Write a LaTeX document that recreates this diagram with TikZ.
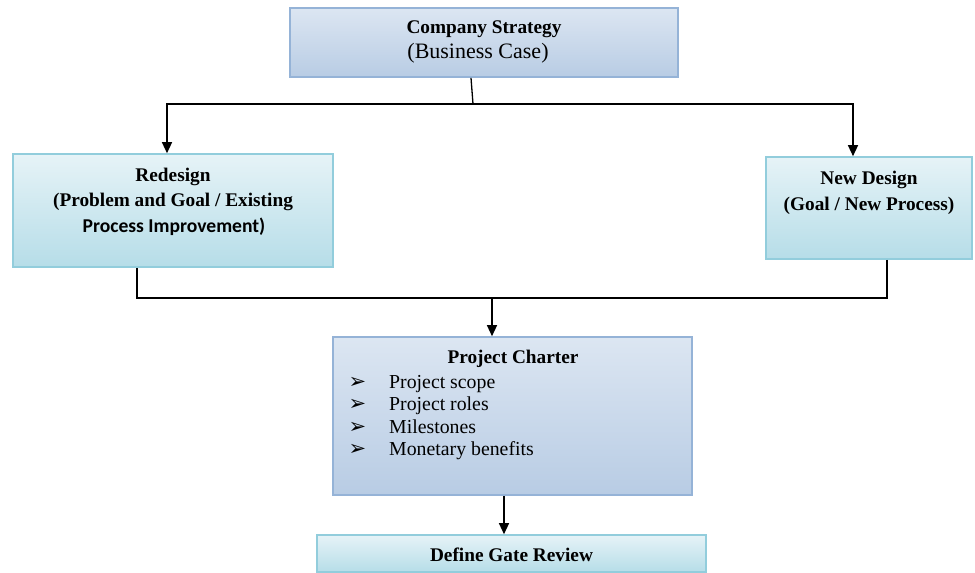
\documentclass[tikz,border=0pt]{standalone}
\usepackage{fontspec}
\setmainfont{Liberation Serif}
\newfontfamily\calibfont{Carlito}
\newfontfamily\symfont{DejaVu Sans}
\usetikzlibrary{arrows.meta}

\definecolor{blueedge}{HTML}{95B3D7}
\definecolor{bluetop}{HTML}{DCE6F2}
\definecolor{bluemid}{HTML}{F1F5FA}
\definecolor{bluebot}{HTML}{B8CCE4}
\definecolor{aquaedge}{HTML}{92CDDC}
\definecolor{aquatop}{HTML}{E6F3F7}
\definecolor{aquamid}{HTML}{F6FBFC}
\definecolor{aquabot}{HTML}{B6DDE8}

\tikzset{
  boxbase/.style={rectangle, inner sep=0pt, line width=1.6pt},
  bluebox/.style={boxbase, draw=blueedge, top color=bluetop, middle color=bluemid, bottom color=bluebot},
  aquabox/.style={boxbase, draw=aquaedge, top color=aquatop, middle color=aquamid, bottom color=aquabot},
  label/.style={anchor=base, inner sep=0pt},
  boldtxt/.style={label, font=\fontsize{19.3}{23}\selectfont\bfseries},
  plaintxt/.style={label, font=\fontsize{22}{26}\selectfont},
  itemtxt/.style={anchor=base west, inner sep=0pt, font=\fontsize{19.8}{24}\selectfont},
  bulletmark/.style={anchor=base, inner sep=0pt, font=\symfont\fontsize{21}{24}\selectfont},
  link/.style={line width=1.3pt, black},
  arr/.style={link, -{Triangle[length=11pt,width=10pt]}}
}

\begin{document}
\begin{tikzpicture}[x=1pt,y=-1pt]
\useasboundingbox (0,0) rectangle (975,573);

% boxes
\node[bluebox, minimum width=388pt, minimum height=69pt] (cs) at (484,42.5) {};
\node[aquabox, minimum width=320pt, minimum height=113pt] (rd) at (173,210.5) {};
\node[aquabox, minimum width=206pt, minimum height=102pt] (nd) at (869,208) {};
\node[bluebox, minimum width=359pt, minimum height=158pt] (pc) at (512.5,416) {};
\node[aquabox, minimum width=389pt, minimum height=37pt] (gr) at (511.5,553.5) {};

% box texts
\node[boldtxt] (cs1) at (484,33) {Company Strategy};
\node[plaintxt] (cs2) at (478,58) {(Business Case)};

\node[boldtxt] (rd1) at (173,181) {Redesign};
\node[boldtxt] (rd2) at (173,206) {(Problem and Goal / Existing};
\node[label, font=\calibfont\fontsize{19.6}{23}\selectfont\bfseries] (rd3) at (174,232) {Process Improvement)};

\node[boldtxt] (nd1) at (869,184) {New Design};
\node[boldtxt] (nd2) at (869,210) {(Goal / New Process)};

\node[boldtxt] (pc0) at (513,363) {Project Charter};
\foreach \i/\yy/\txt in {1/388/Project scope, 2/410.5/Project roles, 3/433/Milestones, 4/455.5/Monetary benefits}{
  \node[bulletmark] (pcb\i) at (357.5,\yy) {➢};
  \node[itemtxt] (pct\i) at (389,\yy) {\txt};
}

\node[boldtxt] (gr1) at (511.5,561) {Define Gate Review};

% connectors
\coordinate (j1) at (473,104);
\coordinate (j2) at (492,298);
\draw[link] ([xshift=-13pt]cs.south) -- (j1);
\draw[arr] (j1) -| ([xshift=-6pt]rd.north);
\draw[arr] (j1) -| ([xshift=-16pt]nd.north);
\draw[link] ([xshift=-36pt]rd.south) |- (j2);
\draw[link] ([xshift=18pt]nd.south) |- (j2);
\draw[arr] (j2) -- (j2 |- pc.north);
\draw[arr] ([xshift=-8.5pt]pc.south) -- ([xshift=-8.5pt]pc.south |- gr.north);
\end{tikzpicture}
\end{document}
